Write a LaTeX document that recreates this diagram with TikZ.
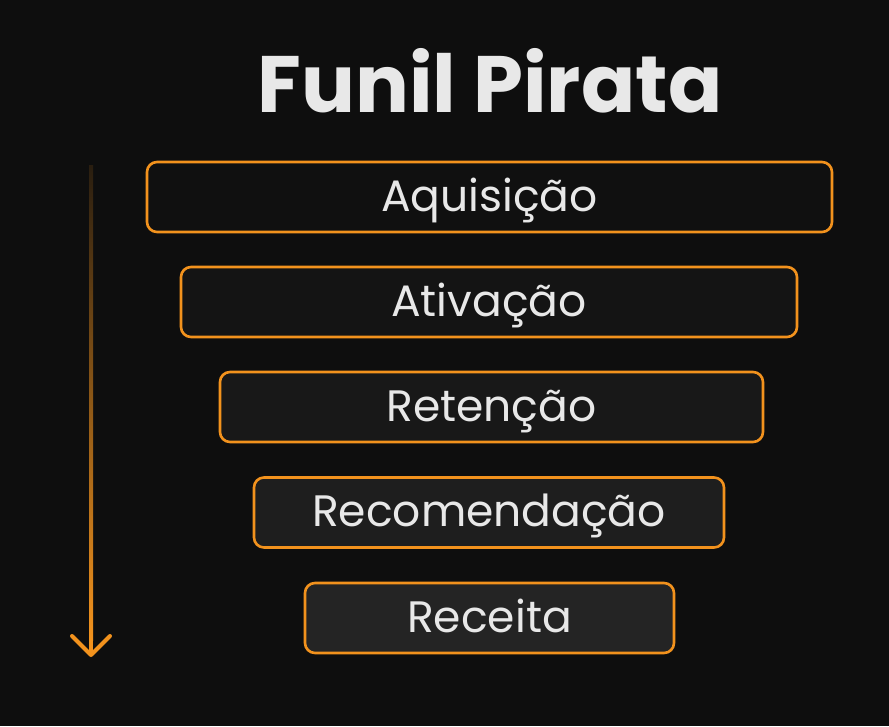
\documentclass[tikz,border=0pt]{standalone}
\usepackage{fontspec}
\setmainfont{Poppins}
\newfontfamily\titlefont{Poppins Bold}
\definecolor{bg}{HTML}{0E0E0E}
\definecolor{org}{HTML}{F2921D}
\definecolor{txt}{HTML}{E8E8E8}
\definecolor{fa}{HTML}{101010}
\definecolor{fb}{HTML}{141414}
\definecolor{fc}{HTML}{181818}
\definecolor{fd}{HTML}{1E1E1E}
\definecolor{fe}{HTML}{242424}
\begin{document}
\begin{tikzpicture}[x=1pt,y=-1pt,
  stage/.style={draw=org, line width=2.6pt, rounded corners=10pt, minimum height=70pt,
    inner sep=0pt, text=txt, font=\fontsize{44}{50}\selectfont,
    text height=31pt, text depth=3pt},
  titletext/.style={text=txt, font=\titlefont\fontsize{80}{86}\selectfont, inner sep=0pt}]
\fill[bg] (0,0) rectangle (889,726);
\useasboundingbox (0,0) rectangle (889,726);
\node[titletext, anchor=base] (title) at (490,112) {Funil Pirata};
\node[stage, fill=fa, minimum width=685pt] (s1) at (489.5,197) {Aquisição};
\node[stage, fill=fb, minimum width=616pt] (s2) at (489,302) {Ativação};
\node[stage, fill=fc, minimum width=543pt] (s3) at (491.5,407) {Retenção};
\node[stage, fill=fd, minimum width=470pt] (s4) at (489,512.5) {Recomendação};
\node[stage, fill=fe, minimum width=369pt] (s5) at (489.5,618) {Receita};
\coordinate (atop) at (91,165);
\coordinate (atip) at (91,655);
\shade[top color=org!12!bg, bottom color=org] (89,165) rectangle (93,640);
\fill[org] (89,639) rectangle (93,654);
\draw[org, line width=4pt, line cap=round, line join=round] (72,636) -- (atip) -- (110,636);
\end{tikzpicture}
\end{document}
